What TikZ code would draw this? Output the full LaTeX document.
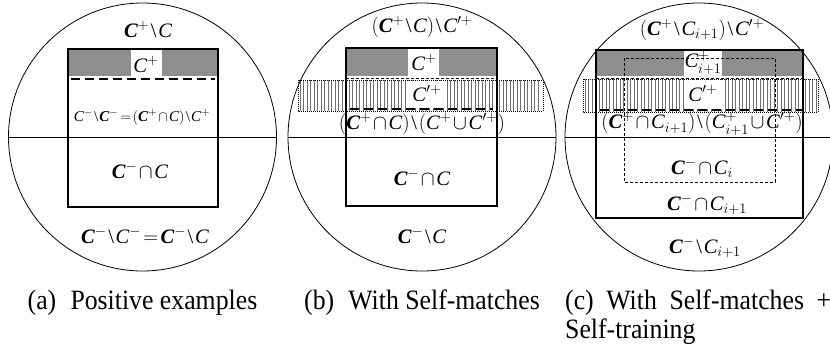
\documentclass[tikz,border=0pt]{standalone}
\usepackage{amsmath}
\usepackage{fontspec}
\setmainfont{Liberation Serif}
% slightly condensed face for the sub-captions
\newfontfamily\capfont[FakeStretch=0.92]{Liberation Serif}

% bold italic and plain italic set letters
\newcommand{\Cb}{\text{\bfseries\itshape C}}
\newcommand{\Ci}{\text{\itshape C}}
\newcommand{\smin}{\mathbin{\text{\textbackslash}}}
\newcommand{\Cp}{\Ci^{\prime +}}
% tight operator spacing for the set formulas
\newcommand{\tightmath}{\thinmuskip=1mu\medmuskip=1.5mu\thickmuskip=2mu}

\definecolor{bandgray}{HTML}{8E8E8E}
\definecolor{hatchgray}{HTML}{6E6E6E}

% vertical-line hatching in a box: x1, y1, x2, y2, number of lines
\newcommand{\hatchband}[5]{%
  \foreach \i in {0,...,#5} \draw[hatchline] ({#1+2+3.5*\i},#2) -- ({#1+2+3.5*\i},#4);
  \draw[hatchframe] (#1,#2) rectangle (#3,#4);
}

\tikzset{
  circ/.style={draw, line width=0.8pt},
  boxline/.style={draw, line width=1.2pt},
  boldbox/.style={draw, line width=1.8pt},
  thickdash/.style={line width=2pt, dash pattern=on 9pt off 5pt},
  thindash/.style={line width=0.6pt, dash pattern=on 3pt off 2pt},
  hatchline/.style={draw=hatchgray, line width=0.45pt},
  hatchframe/.style={draw, line width=0.5pt, dash pattern=on 1pt off 1pt},
  lbl/.style={font=\fontsize{20.5}{24}\selectfont\tightmath, inner sep=0pt},
  smlbl/.style={font=\fontsize{15}{18}\selectfont\tightmath, inner sep=0pt},
  captxt/.style={font=\capfont\fontsize{28}{32}\selectfont, inner sep=0pt},
}

\begin{document}
\begin{tikzpicture}[x=1pt, y=-1pt]
\useasboundingbox[fill=white] (0,0) rectangle (830,351);

%% ---------- (a) positive examples ----------
\fill[bandgray] (68,49) rectangle (218,76);
\fill[white] (131,49) rectangle (162,76);
\draw[boxline] (68,49) rectangle (218,207);
\draw[thickdash] (71,79) -- (215,79);
\draw[circ] (142.5,137) circle[radius=134pt];
\draw[circ] (8.5,137) -- (276.5,137);
\node[lbl] (aTop) at (148,29) {$\Cb^{+}\smin\Ci$};
\node[lbl] (aCp) at (146,64) {$\Ci^{+}$};
\node[smlbl] (aMid) at (142,117) {$\Ci^{-}\smin\Cb^{-}=(\Cb^{+}\cap\Ci)\smin\Ci^{+}$};
\node[lbl] (aLow) at (140,170) {$\Cb^{-}\cap\Ci$};
\node[lbl] (aBot) at (145,235) {$\Cb^{-}\smin\Ci^{-}=\Cb^{-}\smin\Ci$};

%% ---------- (b) with self-matches ----------
\hatchband{298}{80}{543}{111}{68}
\fill[white] (408,80.5) rectangle (446,108);
\fill[bandgray] (346,48) rectangle (497,76);
\fill[white] (408,48) rectangle (439,76);
\draw[boxline] (346,48) rectangle (497,206);
\draw[thindash] (346,78) -- (497,78);
\draw[thickdash] (350,109) -- (493,109);
\draw[circ] (422,137) circle[radius=134pt];
\draw[circ] (288,137) -- (556,137);
\node[lbl] (bTop) at (422,27) {$(\Cb^{+}\smin\Ci)\smin\Cp$};
\node[lbl] (bCp) at (424,62) {$\Ci^{+}$};
\node[lbl] (bCq) at (427,93) {$\Cp$};
\node[lbl] (bMid) at (422,124) {$(\Cb^{+}\cap\Ci)\smin(\Ci^{+}\cup\Cp)$};
\node[lbl] (bLow) at (422,177) {$\Cb^{-}\cap\Ci$};
\node[lbl] (bBot) at (422,235) {$\Cb^{-}\smin\Ci$};

%% ---------- (c) with self-matches + self-training ----------
\hatchband{583}{79}{818}{112}{66}
\fill[white] (685,79.5) rectangle (723,109);
\fill[bandgray] (597,50) rectangle (802,76);
\fill[white] (684,50) rectangle (722,76);
\draw[thindash] (596,78) -- (803,78);
\draw[thindash] (624,58) rectangle (775,182);
\draw[boldbox] (596,50) rectangle (803,218);
\draw[thickdash] (600,110) -- (803,110);
\draw[circ] (699,137) circle[radius=134pt];
\draw[circ] (565,137) -- (833,137);
\node[lbl] (cTop) at (702,30) {$(\Cb^{+}\smin\Ci_{i+1})\smin\Cp$};
\node[lbl] (cCp) at (703,63) {$\Ci^{+}_{i+1}$};
\node[lbl] (cCq) at (703,93) {$\Cp$};
\node[lbl] (cMid) at (702,124) {$(\Cb^{+}\cap\Ci_{i+1})\smin(\Ci^{+}_{i+1}\cup\Cp)$};
\node[lbl] (cIn) at (702,168) {$\Cb^{-}\cap\Ci_{i}$};
\node[lbl] (cLow) at (707,204) {$\Cb^{-}\cap\Ci_{i+1}$};
\node[lbl] (cBot) at (705,247) {$\Cb^{-}\smin\Ci_{i+1}$};

%% ---------- captions ----------
\node[captxt, anchor=base] (capA) at (142.5,309) {(a)\; Positive examples};
\node[captxt, anchor=base] (capB) at (422,309) {(b)\; With Self-matches};
\node[captxt, anchor=base west] (capC) at (565,309) {\makebox[266pt][s]{(c) With Self-matches +}};
\node[captxt, anchor=base west] (capC2) at (565,338) {Self-training};
\end{tikzpicture}
\end{document}
